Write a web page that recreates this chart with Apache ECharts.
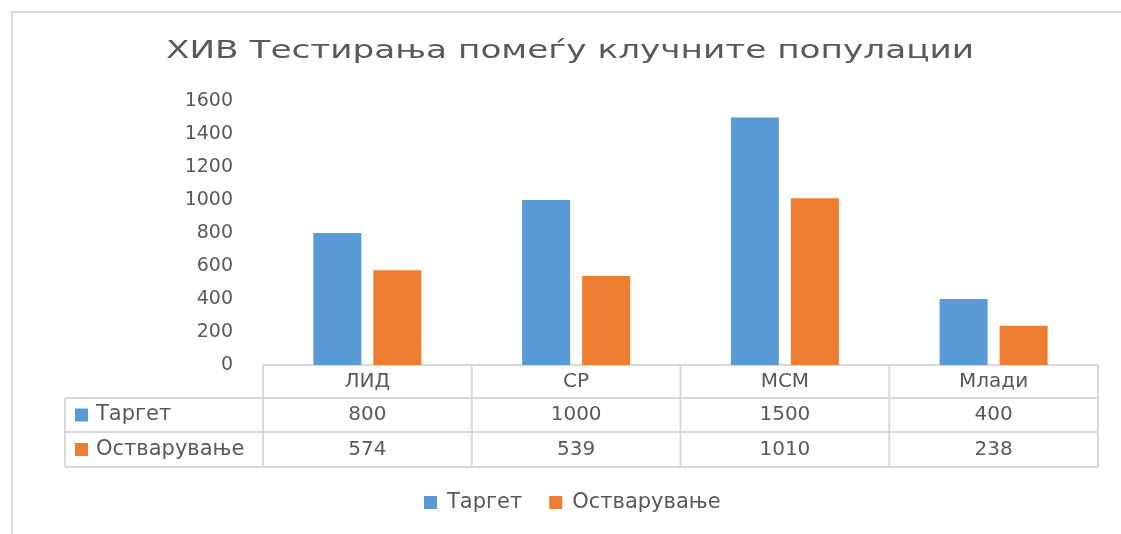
<!DOCTYPE html>
<html lang="mk">
<head>
    <meta charset="UTF-8">
    <title>ХИВ Тестирања помеѓу клучните популации</title>
    <script src="https://cdn.jsdelivr.net/npm/echarts@6/dist/echarts.min.js"></script>
    <style>
        html, body {
            margin: 0;
            padding: 0;
            background: #fff;
        }
        #chart {
            width: 1121px;
            height: 534px;
        }
    </style>
</head>
<body>
<div id="chart"></div>

<script>
    // data
    const categories = ['ЛИД', 'СР', 'МСМ', 'Млади'];
    const seriesNames = ['Таргет', 'Остварување'];
    const targetValues = [800, 1000, 1500, 400];
    const achievedValues = [574, 539, 1010, 238];
    const yTicks = [0, 200, 400, 600, 800, 1000, 1200, 1400, 1600];
    const titleText = 'ХИВ Тестирања помеѓу клучните популации';

    const colors = ['#5B9BD5', '#ED7D31'];
    const textColor = '#595959';
    const lineColor = '#d9d9d9';
    const font = '"DejaVu Sans", sans-serif';

    // plot box (table hangs below it)
    const W = 1121, H = 534;
    const plotLeft = 263, plotRight = 1098, plotTop = 101, plotBottom = 365;
    const tableLeft = 65;
    const rowY = [365, 398, 432, 467];

    const chart = echarts.init(document.getElementById('chart'));

    // the source picture is stretched sideways, so widen the title to fit its span
    function titleScale(fontCss, targetWidth) {
        const ctx = document.createElement('canvas').getContext('2d');
        ctx.font = fontCss;
        return targetWidth / ctx.measureText(titleText).width;
    }

    function buildGraphics() {
        const els = [];
        const colW = (plotRight - plotLeft) / categories.length;
        const cellFont = '20px ' + font;
        const line = (x1, y1, x2, y2) => ({
            type: 'line', silent: true,
            shape: { x1, y1, x2, y2 },
            style: { stroke: lineColor, lineWidth: 2 }
        });

        // title
        const titleFont = '24px ' + font;
        els.push({
            type: 'text', silent: true,
            x: 570, y: 52,
            scaleX: titleScale(titleFont, 808),
            style: { text: titleText, fill: textColor, font: titleFont, align: 'center', verticalAlign: 'middle' }
        });

        // horizontal lines of the data table
        els.push(line(plotLeft, rowY[0], plotRight, rowY[0]));
        for (let i = 1; i < rowY.length; i++) {
            els.push(line(tableLeft, rowY[i], plotRight, rowY[i]));
        }
        // vertical lines
        els.push(line(tableLeft, rowY[1], tableLeft, rowY[3]));
        for (let c = 0; c <= categories.length; c++) {
            const x = plotLeft + c * colW;
            els.push(line(x, rowY[0], x, rowY[3]));
        }
        // header
        categories.forEach((cat, c) => {
            els.push({
                type: 'text', silent: true,
                x: plotLeft + (c + 0.5) * colW, y: (rowY[0] + rowY[1]) / 2,
                style: { text: cat, fill: textColor, font: cellFont, align: 'center', verticalAlign: 'middle' }
            });
        });
        // rows
        [targetValues, achievedValues].forEach((vals, r) => {
            const yMid = (rowY[r + 1] + rowY[r + 2]) / 2;
            els.push({
                type: 'rect', silent: true,
                shape: { x: tableLeft + 10, y: yMid - 6.5, width: 13, height: 13 },
                style: { fill: colors[r] }
            });
            els.push({
                type: 'text', silent: true,
                x: tableLeft + 31, y: yMid,
                style: { text: seriesNames[r], fill: textColor, font: '21px ' + font, align: 'left', verticalAlign: 'middle' }
            });
            vals.forEach((v, c) => {
                els.push({
                    type: 'text', silent: true,
                    x: plotLeft + (c + 0.5) * colW, y: yMid,
                    style: { text: String(v), fill: textColor, font: cellFont, align: 'center', verticalAlign: 'middle' }
                });
            });
        });
        // chart area frame (only left and top edges are in view)
        els.push(line(12, 12, 12, H));
        els.push(line(11, 12, W, 12));
        return els;
    }

    const option = {
        backgroundColor: '#fff',
        animation: false,
        legend: {
            data: seriesNames,
            left: 419,
            top: 487,
            icon: 'rect',
            itemWidth: 13,
            itemHeight: 13,
            itemGap: 27,
            textStyle: { color: textColor, fontSize: 21, fontFamily: font, padding: [0, 0, 0, 5] }
        },
        grid: {
            left: plotLeft,
            right: W - plotRight,
            top: plotTop,
            bottom: H - plotBottom,
            containLabel: false
        },
        xAxis: {
            type: 'category',
            data: categories,
            axisLine: { show: false },
            axisTick: { show: false },
            axisLabel: { show: false },
            splitLine: { show: false }
        },
        yAxis: {
            type: 'value',
            min: yTicks[0],
            max: yTicks[yTicks.length - 1],
            interval: yTicks[1] - yTicks[0],
            axisLine: { show: false },
            axisTick: { show: false },
            splitLine: { show: false },
            axisLabel: {
                color: textColor, fontSize: 19, fontFamily: font, margin: 30,
                formatter: v => String(v)
            }
        },
        series: [
            {
                name: seriesNames[0],
                type: 'bar',
                data: targetValues,
                barWidth: '23%',
                barGap: '25%',
                itemStyle: { color: colors[0] }
            },
            {
                name: seriesNames[1],
                type: 'bar',
                data: achievedValues,
                barWidth: '23%',
                barGap: '25%',
                itemStyle: { color: colors[1] }
            }
        ],
        graphic: buildGraphics()
    };

    chart.setOption(option);
</script>
</body>
</html>
